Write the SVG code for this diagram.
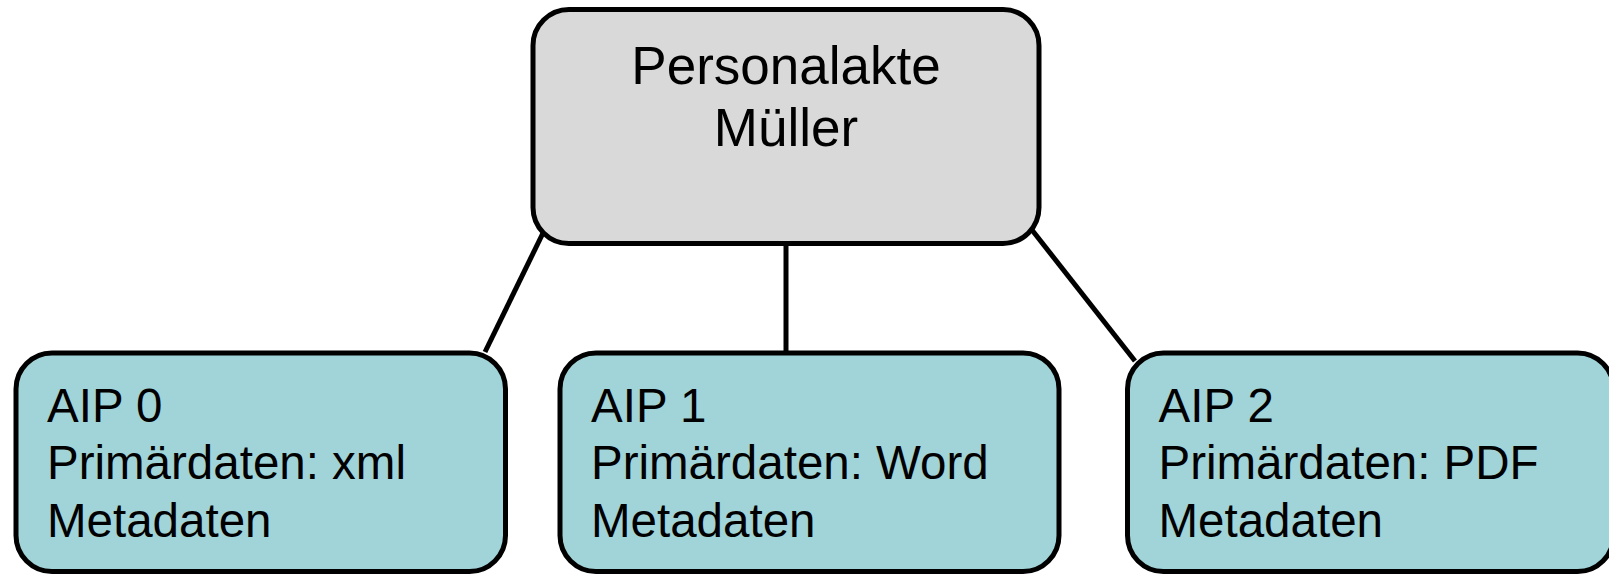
<svg xmlns="http://www.w3.org/2000/svg" width="1609" height="574" viewBox="0 0 1609 574">
  <style>
    .box { stroke: #000; stroke-width: 5; }
    .root { fill: #d9d9d9; }
    .aip { fill: #a0d4d8; }
    .link { stroke: #000; stroke-width: 5; fill: none; }
    text { font-family: "Liberation Sans", Arial, sans-serif; fill: #000; }
    .title { font-size: 53px; text-anchor: middle; }
    .label { font-size: 47.5px; }
  </style>

  <!-- tree edges from the file to its packages -->
  <g id="connectors">
    <line class="link" x1="543" y1="233" x2="485" y2="352"/>
    <line class="link" x1="786" y1="242" x2="786" y2="353"/>
    <line class="link" x1="1032" y1="230" x2="1135" y2="361"/>
  </g>

  <g id="personalakte">
    <rect class="box root" x="533" y="9.5" width="506" height="234" rx="36" ry="36"/>
    <text class="title" x="786" y="83.5">Personalakte</text>
    <text class="title" x="786" y="146">Müller</text>
  </g>

  <g id="aip0">
    <rect class="box aip" x="16" y="353" width="489.5" height="218.5" rx="36" ry="36"/>
    <text class="label" x="47" y="421.5">AIP 0</text>
    <text class="label" x="47" y="479">Primärdaten: xml</text>
    <text class="label" x="47" y="536.5">Metadaten</text>
  </g>

  <g id="aip1">
    <rect class="box aip" x="560" y="353" width="499" height="218.5" rx="36" ry="36"/>
    <text class="label" x="591" y="421.5">AIP 1</text>
    <text class="label" x="591" y="479">Primärdaten: Word</text>
    <text class="label" x="591" y="536.5">Metadaten</text>
  </g>

  <g id="aip2">
    <rect class="box aip" x="1127.5" y="353" width="486" height="218.5" rx="36" ry="36"/>
    <text class="label" x="1158.5" y="421.5">AIP 2</text>
    <text class="label" x="1158.5" y="479">Primärdaten: PDF</text>
    <text class="label" x="1158.5" y="536.5">Metadaten</text>
  </g>
</svg>
